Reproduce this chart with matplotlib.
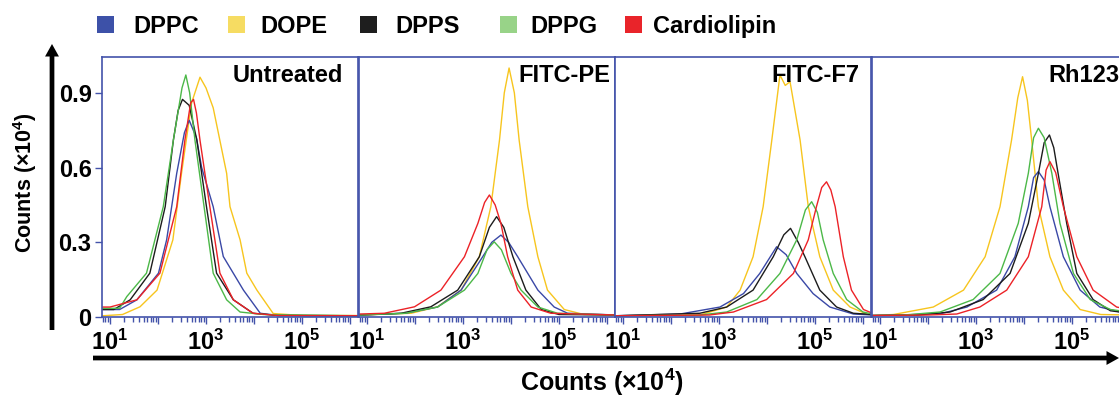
import numpy as np
import matplotlib
matplotlib.use('Agg')
import matplotlib.pyplot as plt
from matplotlib.patches import Rectangle
from matplotlib.ticker import FixedLocator, LogLocator, NullFormatter

plt.rcParams['font.family'] = 'Liberation Sans'
plt.rcParams['font.weight'] = 'bold'
plt.rcParams['mathtext.fontset'] = 'custom'
plt.rcParams['mathtext.rm'] = 'Liberation Sans:bold'
plt.rcParams['mathtext.bf'] = 'Liberation Sans:bold'
plt.rcParams['mathtext.default'] = 'bf'

lipids = ['DPPC', 'DOPE', 'DPPS', 'DPPG', 'Cardiolipin']
treatments = ['Untreated', 'FITC-PE', 'FITC-F7', 'Rh123']
line_colors = {'DPPC': '#3a48a6', 'DOPE': '#f7c51e', 'DPPS': '#1c1c1c',
               'DPPG': '#4cb848', 'Cardiolipin': '#ec2227'}
legend_colors = ['#3d51a8', '#f6dc62', '#1e1e1e', '#98d388', '#e9242a']
frame_color = '#4353aa'

# Histogram traces per lipid: (log10 fluorescence, counts in units of 1e4)
untreated = {
    'DPPC': ([0.85, 1.2, 1.56, 2.01, 2.18, 2.39, 2.55, 2.65, 2.8, 2.91, 3.15, 3.36, 3.78, 4.13, 4.5, 6.2],
             [0.03, 0.03, 0.069, 0.176, 0.31, 0.577, 0.74, 0.79, 0.72, 0.6, 0.443, 0.243, 0.108, 0.015, 0.006, 0.005]),
    'DOPE': ([0.85, 1.26, 1.625, 1.98, 2.31, 2.49, 2.7, 2.875, 3.0, 3.15, 3.43, 3.5, 3.71, 3.85, 4.06, 4.4, 5.0, 6.2],
             [0.005, 0.01, 0.041, 0.108, 0.31, 0.577, 0.86, 0.963, 0.92, 0.84, 0.577, 0.443, 0.31, 0.176, 0.108, 0.014, 0.006, 0.006]),
    'DPPS': ([0.85, 1.08, 1.42, 1.83, 2.15, 2.32, 2.42, 2.51, 2.65, 2.81, 3.01, 3.22, 3.57, 3.98, 4.5, 6.2],
             [0.03, 0.03, 0.069, 0.176, 0.443, 0.71, 0.83, 0.874, 0.85, 0.71, 0.443, 0.176, 0.069, 0.015, 0.006, 0.005]),
    'DPPG': ([0.85, 1.2, 1.35, 1.76, 2.11, 2.32, 2.5, 2.58, 2.66, 2.77, 2.96, 3.15, 3.43, 3.71, 4.2, 6.2],
             [0.035, 0.035, 0.082, 0.176, 0.443, 0.71, 0.92, 0.972, 0.9, 0.71, 0.443, 0.176, 0.069, 0.02, 0.01, 0.005]),
    'Cardiolipin': ([0.85, 1.0, 1.56, 2.04, 2.39, 2.56, 2.68, 2.74, 2.8, 2.875, 3.08, 3.29, 3.57, 3.98, 4.5, 6.2],
                    [0.04, 0.04, 0.069, 0.176, 0.443, 0.71, 0.86, 0.874, 0.82, 0.71, 0.443, 0.176, 0.069, 0.015, 0.006, 0.005]),
}

fitc_pe = {
    'DPPC': ([0.85, 1.8, 2.47, 2.96, 3.41, 3.6, 3.79, 3.95, 4.14, 4.56, 4.9, 5.18, 6.2],
             [0.008, 0.015, 0.04, 0.108, 0.242, 0.3, 0.329, 0.3, 0.242, 0.108, 0.04, 0.015, 0.008]),
    'DOPE': ([0.85, 1.92, 2.47, 2.96, 3.34, 3.58, 3.76, 3.86, 3.96, 4.07, 4.17, 4.35, 4.56, 4.76, 5.11, 5.52, 6.2],
             [0.008, 0.015, 0.041, 0.108, 0.242, 0.443, 0.71, 0.9, 1.0, 0.9, 0.71, 0.443, 0.242, 0.108, 0.03, 0.01, 0.008]),
    'DPPS': ([0.85, 1.71, 2.33, 2.89, 3.34, 3.55, 3.7, 3.85, 4.04, 4.31, 4.63, 5.0, 6.2],
             [0.008, 0.015, 0.041, 0.108, 0.242, 0.36, 0.403, 0.36, 0.242, 0.108, 0.03, 0.01, 0.008]),
    'DPPG': ([0.85, 1.8, 2.47, 3.03, 3.31, 3.5, 3.65, 3.8, 4.0, 4.21, 4.56, 4.97, 6.2],
             [0.008, 0.015, 0.04, 0.108, 0.175, 0.27, 0.302, 0.27, 0.175, 0.108, 0.04, 0.015, 0.008]),
    'Cardiolipin': ([0.85, 1.36, 1.99, 2.54, 3.03, 3.31, 3.45, 3.55, 3.67, 3.79, 3.93, 4.14, 4.42, 4.83, 6.2],
                    [0.012, 0.015, 0.041, 0.108, 0.242, 0.376, 0.46, 0.49, 0.45, 0.376, 0.242, 0.108, 0.04, 0.015, 0.008]),
}

fitc_f7 = {
    'DPPC': ([0.85, 2.19, 3.02, 3.51, 3.85, 4.2, 4.4, 4.62, 4.96, 5.31, 5.8, 6.2],
             [0.005, 0.012, 0.04, 0.094, 0.175, 0.282, 0.25, 0.175, 0.094, 0.04, 0.012, 0.008]),
    'DOPE': ([0.85, 2.6, 3.16, 3.44, 3.71, 3.92, 4.1, 4.27, 4.38, 4.48, 4.69, 4.86, 5.1, 5.38, 5.73, 6.1, 6.2],
             [0.005, 0.008, 0.04, 0.108, 0.242, 0.443, 0.71, 0.972, 0.93, 0.945, 0.71, 0.443, 0.242, 0.108, 0.04, 0.01, 0.008]),
    'DPPS': ([0.85, 2.6, 3.16, 3.71, 4.13, 4.35, 4.49, 4.65, 4.79, 5.1, 5.45, 5.8, 6.2],
             [0.005, 0.015, 0.04, 0.108, 0.242, 0.33, 0.356, 0.3, 0.242, 0.108, 0.04, 0.015, 0.01]),
    'DPPG': ([0.85, 2.6, 3.16, 3.79, 4.27, 4.62, 4.8, 4.93, 5.05, 5.17, 5.38, 5.66, 6.0, 6.2],
             [0.005, 0.008, 0.02, 0.07, 0.175, 0.31, 0.43, 0.463, 0.42, 0.31, 0.175, 0.07, 0.02, 0.012]),
    'Cardiolipin': ([0.85, 2.8, 3.3, 3.99, 4.55, 4.86, 5.03, 5.14, 5.24, 5.33, 5.42, 5.59, 5.76, 6.01, 6.2],
                    [0.005, 0.008, 0.02, 0.07, 0.175, 0.31, 0.443, 0.52, 0.543, 0.51, 0.443, 0.242, 0.108, 0.03, 0.015]),
}

rh123 = {
    'DPPC': ([0.85, 1.5, 2.3, 2.81, 3.43, 3.81, 4.09, 4.2, 4.3, 4.42, 4.54, 4.82, 5.17, 5.58, 6.0, 6.2],
             [0.006, 0.008, 0.015, 0.04, 0.108, 0.242, 0.443, 0.56, 0.584, 0.55, 0.443, 0.242, 0.108, 0.04, 0.02, 0.015]),
    'DOPE': ([0.85, 1.28, 2.11, 2.74, 3.19, 3.5, 3.74, 3.87, 3.97, 4.07, 4.16, 4.3, 4.54, 4.82, 5.17, 5.6, 6.2],
             [0.006, 0.01, 0.04, 0.108, 0.242, 0.443, 0.71, 0.88, 0.965, 0.87, 0.71, 0.443, 0.242, 0.108, 0.03, 0.01, 0.008]),
    'DPPS': ([0.85, 1.8, 2.46, 3.15, 3.71, 4.09, 4.3, 4.42, 4.53, 4.62, 4.71, 4.89, 5.1, 5.44, 5.8, 6.2],
             [0.006, 0.008, 0.02, 0.07, 0.175, 0.376, 0.577, 0.7, 0.731, 0.68, 0.577, 0.376, 0.175, 0.07, 0.025, 0.015]),
    'DPPG': ([0.85, 1.5, 2.25, 2.94, 3.5, 3.88, 4.09, 4.2, 4.3, 4.42, 4.58, 4.75, 5.03, 5.38, 5.8, 6.2],
             [0.006, 0.008, 0.02, 0.07, 0.175, 0.376, 0.577, 0.72, 0.758, 0.72, 0.577, 0.376, 0.175, 0.07, 0.03, 0.02]),
    'Cardiolipin': ([0.85, 2.0, 2.6, 3.08, 3.64, 4.09, 4.37, 4.46, 4.54, 4.66, 4.82, 5.1, 5.44, 5.93, 6.2],
                    [0.006, 0.008, 0.012, 0.04, 0.108, 0.242, 0.443, 0.59, 0.624, 0.58, 0.443, 0.242, 0.108, 0.04, 0.03]),
}

panels = [untreated, fitc_pe, fitc_f7, rh123]
draw_order = ['DOPE', 'DPPC', 'DPPS', 'DPPG', 'Cardiolipin']
label_insets = [15, 5, 12, 8]  # px from the right frame edge

W, H = 1119, 397
panel_lefts = [102, 359, 615, 872]
panel_w, panel_top, panel_bottom = 256, 57, 317
px_per_decade = 48.0
xmin_log = 1 - 8 / px_per_decade


def draw_panel(ax, traces, title, inset, show_y):
    ''' One flow cytometry histogram panel with all five lipid traces. '''
    for name in draw_order:
        logx, counts = traces[name]
        ax.plot(10.0 ** np.array(logx), counts, color=line_colors[name], lw=1.0)

    ax.set_xscale('log')
    ax.set_xlim(10 ** xmin_log, 10 ** (xmin_log + panel_w / px_per_decade))
    ax.set_ylim(0, (panel_bottom - panel_top) / 249.0)
    ax.xaxis.set_major_locator(FixedLocator(10.0 ** np.arange(1, 7)))
    ax.set_xticklabels([r'$10^{1}$', '', r'$10^{3}$', '', r'$10^{5}$', ''])
    ax.xaxis.set_minor_locator(LogLocator(base=10, subs=np.arange(2, 10), numticks=20))
    ax.xaxis.set_minor_formatter(NullFormatter())
    ax.tick_params(axis='x', which='major', direction='out', length=5, width=1.0,
                   color=frame_color, labelsize=17, pad=4)
    ax.tick_params(axis='x', which='minor', direction='out', length=3.5, width=1.0, color=frame_color)

    if show_y:
        ax.set_yticks([0, 0.3, 0.6, 0.9])
        ax.set_yticklabels(['0', '0.3', '0.6', '0.9'])
        ax.tick_params(axis='y', direction='out', length=5, width=1.0,
                       color=frame_color, labelsize=17, pad=2.5)
    else:
        ax.tick_params(axis='y', left=False, labelleft=False)

    for s in ax.spines.values():
        s.set_color(frame_color)
        s.set_linewidth(1.2)

    ax.text(1 - inset / panel_w, 1 - 7 / (panel_bottom - panel_top), title,
            transform=ax.transAxes, ha='right', va='top', fontsize=17, fontweight='bold')


fig = plt.figure(figsize=(W / 100, H / 100), dpi=100)

for i, (traces, title) in enumerate(zip(panels, treatments)):
    ax = fig.add_axes([panel_lefts[i] / W, (H - panel_bottom) / H,
                       panel_w / W, (panel_bottom - panel_top) / H])
    draw_panel(ax, traces, title, label_insets[i], show_y=(i == 0))

# Axis arrows spanning the whole figure
arrow = dict(facecolor='black', edgecolor='none', width=3.4, headwidth=10, headlength=9, shrink=0)
fig.axes[0].annotate('', xy=(52, H - 44), xytext=(52, H - 330), xycoords='figure pixels',
                     textcoords='figure pixels', arrowprops=arrow, annotation_clip=False)
fig.axes[0].annotate('', xy=(1119, H - 358), xytext=(93, H - 358), xycoords='figure pixels',
                     textcoords='figure pixels', arrowprops=arrow, annotation_clip=False)

fig.text(25 / W, 1 - 183 / H, 'Counts (×10$^{4}$)', rotation=90, ha='center', va='center',
         fontsize=15.5, fontweight='bold')
fig.text(602 / W, 1 - 382 / H, 'Counts (×10$^{4}$)', ha='center', va='center',
         fontsize=18, fontweight='bold')

# Legend row: colour squares and names
square_x = [97, 228, 360, 500, 625]
name_x = [133, 260, 395, 530, 653]
for sx, tx, name, c in zip(square_x, name_x, lipids, legend_colors):
    fig.add_artist(Rectangle((sx / W, 1 - 33 / H), 17 / W, 17 / H, transform=fig.transFigure,
                             facecolor=c, edgecolor='none'))
    fig.text(tx / W, 1 - 33 / H, name, ha='left', va='baseline', fontsize=17, fontweight='bold')

plt.savefig('out.png', dpi=100)
